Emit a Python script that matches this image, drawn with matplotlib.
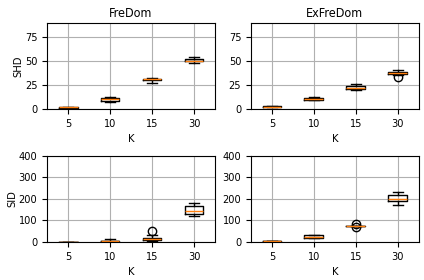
import matplotlib
matplotlib.use('Agg')
import matplotlib.pyplot as plt

plt.rcParams['font.stretch'] = 'condensed'

ks = ['5', '10', '15', '30']
titles = ['FreDom', 'ExFreDom']

# box stats: (whislo, q1, med, q3, whishi, fliers)
shd_fredom = [(0, 1, 2, 2, 2, []), (8, 9, 11, 12, 13, []),
              (27, 30, 31, 32, 33, []), (48, 50, 50, 52, 54, [])]
shd_exfredom = [(2, 2, 2.5, 3, 3, []), (9.5, 10, 11, 12, 13, []),
                (20, 21, 22, 24, 26, []), (36, 37, 38, 39, 41, [34])]
sid_fredom = [(0, 0, 0, 0, 0, []), (0, 2, 4, 6, 15, []),
              (2, 10, 15, 20, 30, [50]), (122, 130, 145, 168, 182, [])]
sid_exfredom = [(2, 2, 2, 2, 2, []), (16, 20, 25, 30, 32, []),
                (76, 76, 76, 76, 76, [70, 84]), (170, 192, 197, 220, 233, [])]


def to_stats(rows):
    out = []
    for lo, q1, med, q3, hi, fl in rows:
        out.append(dict(whislo=lo, q1=q1, med=med, q3=q3, whishi=hi, fliers=fl))
    return out


fig, axes = plt.subplots(2, 2, figsize=(4.24, 2.8), dpi=100)
data = [[shd_fredom, shd_exfredom], [sid_fredom, sid_exfredom]]
ylims = [90, 400]

for r in range(2):
    for c in range(2):
        ax = axes[r][c]
        ax.bxp(to_stats(data[r][c]), showfliers=True,
               flierprops=dict(marker='o', markerfacecolor='none'))
        ax.set_xticks(range(1, 5))
        ax.set_xticklabels(ks)
        ax.set_ylim(0, ylims[r])
        ax.grid(True)
        ax.set_axisbelow(True)
        ax.set_xlabel('K', fontsize=8)
        ax.tick_params(labelsize=7.8)
        if r == 0:
            ax.set_yticks([0, 25, 50, 75])
            ax.set_title(titles[c], fontsize=9, pad=4.5)
        else:
            ax.set_yticks([0, 100, 200, 300, 400])

axes[0][0].set_ylabel('SHD', fontsize=8, labelpad=1)
axes[1][0].set_ylabel('SID', fontsize=8, labelpad=1)

plt.subplots_adjust(left=0.111, right=0.988, top=0.918, bottom=0.136,
                    wspace=0.214, hspace=0.54)
plt.savefig('out.png')
